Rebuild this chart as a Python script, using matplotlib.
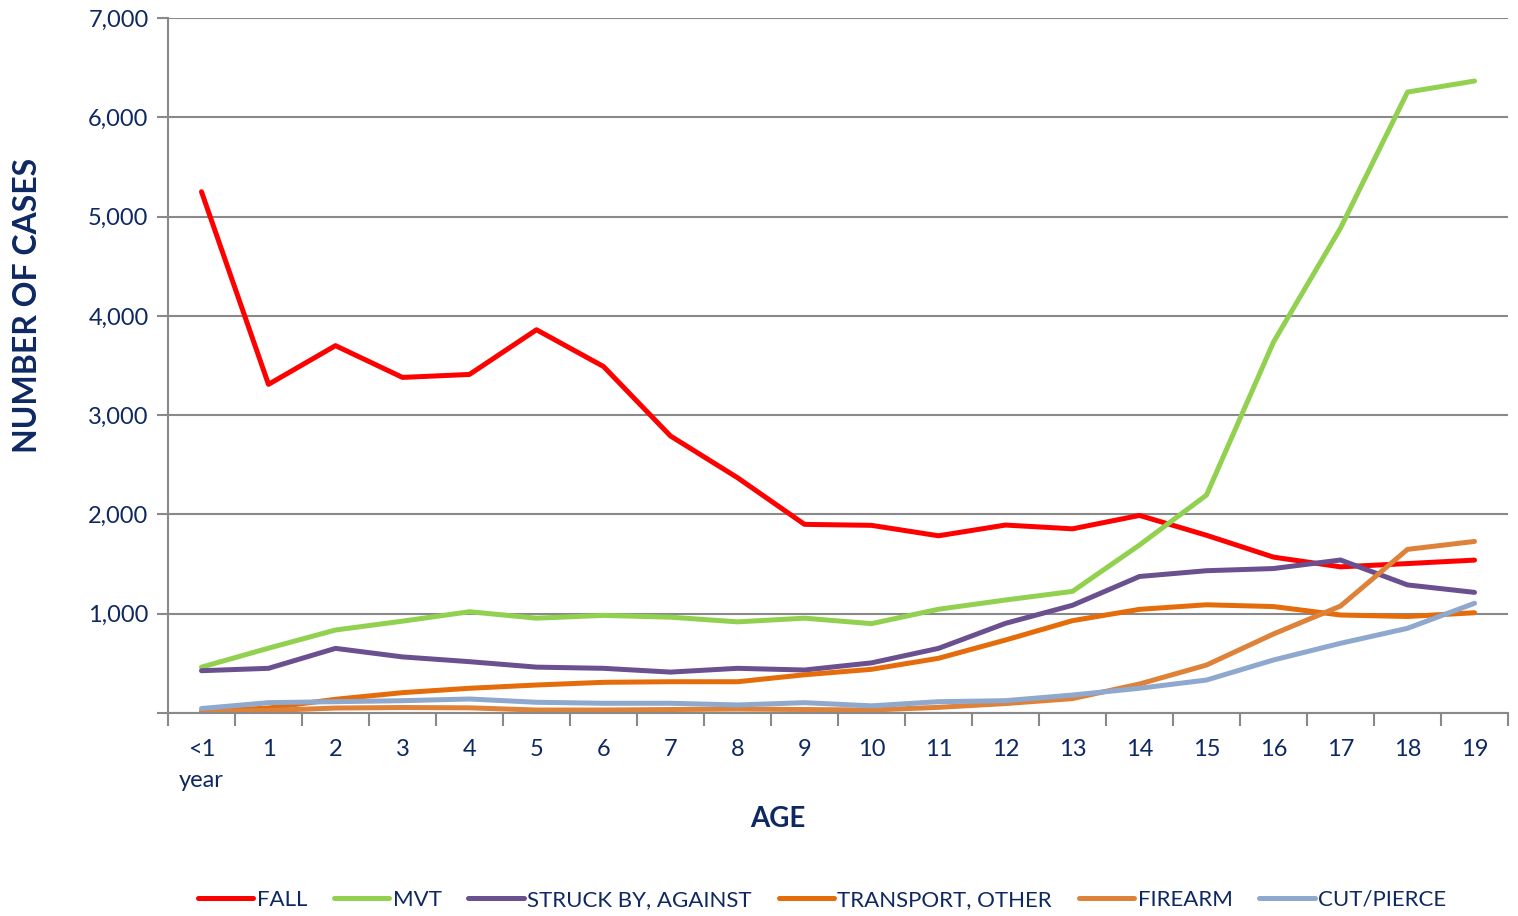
import matplotlib.pyplot as plt
from matplotlib.ticker import FuncFormatter, FixedLocator

ages = ['<1\nyear', '1', '2', '3', '4', '5', '6', '7', '8', '9', '10',
        '11', '12', '13', '14', '15', '16', '17', '18', '19']

fall = [5250, 3310, 3700, 3380, 3410, 3860, 3490, 2790, 2370, 1900, 1890,
        1785, 1893, 1855, 1990, 1790, 1570, 1472, 1505, 1540]
mvt = [462, 653, 836, 925, 1020, 955, 983, 965, 918, 955, 900,
       1045, 1138, 1225, 1692, 2195, 3736, 4884, 6254, 6365]
struck = [426, 450, 651, 565, 517, 462, 450, 412, 450, 433, 505,
          651, 903, 1085, 1375, 1433, 1455, 1541, 1290, 1215]
transport = [15, 50, 138, 205, 249, 282, 309, 315, 315, 385, 440,
             551, 735, 930, 1044, 1090, 1072, 987, 972, 1010]
firearm = [15, 25, 50, 55, 52, 30, 30, 35, 40, 35, 30,
           57, 95, 145, 292, 483, 796, 1077, 1648, 1728]
cut = [45, 104, 114, 124, 141, 108, 98, 98, 81, 104, 72,
       114, 124, 181, 249, 332, 534, 702, 853, 1105]

series = [('FALL', fall, '#FF0000'),
          ('MVT', mvt, '#92D050'),
          ('STRUCK BY, AGAINST', struck, '#6B5090'),
          ('TRANSPORT, OTHER', transport, '#E46C0A'),
          ('FIREARM', firearm, '#DE823A'),
          ('CUT/PIERCE', cut, '#8EA8CE')]

navy = '#0E2862'
grid_c = '#898989'
plt.rcParams['font.family'] = ['Lato', 'DejaVu Sans']

fig = plt.figure(figsize=(15.18, 9.16), dpi=100)
ax = fig.add_axes([168/1518, 1-713/916, (1508-168)/1518, (713-18)/916])

x = list(range(len(ages)))
for name, vals, col in series:
    ax.plot(x, vals, color=col, lw=3.6, label=name, solid_capstyle='round')

ax.set_xlim(-0.5, len(ages)-0.5)
ax.set_ylim(0, 7000)
ax.yaxis.set_major_locator(FixedLocator([0, 1000, 2000, 3000, 4000, 5000, 6000, 7000]))
ax.yaxis.set_major_formatter(FuncFormatter(lambda v, p: '' if v == 0 else f'{int(v):,}'))
ax.grid(axis='y', color=grid_c, lw=1.5)
ax.set_axisbelow(True)

ax.set_xticks(x)
ax.set_xticklabels(ages, va='top', linespacing=1.55)
ax.set_xticks([i - 0.5 for i in range(len(ages)+1)], minor=True)
ax.tick_params(axis='x', which='major', length=0, pad=19, labelsize=17, labelcolor=navy)
ax.tick_params(axis='x', which='minor', length=9, width=1.5, color=grid_c)
ax.tick_params(axis='y', length=8, width=1.5, color=grid_c, labelsize=17,
               labelcolor=navy, pad=6)

for s in ['top', 'right']:
    ax.spines[s].set_visible(False)
for s in ['left', 'bottom']:
    ax.spines[s].set_color(grid_c)
    ax.spines[s].set_linewidth(1.5)

fig.text(778/1518, 1-819/916, 'AGE', ha='center', va='center',
         fontsize=20, fontweight='bold', color=navy)
fig.text(28/1518, 1-305/916, 'NUMBER OF CASES', ha='center', va='center',
         rotation=90, fontsize=23, fontweight='bold', color=navy)

fig.legend(loc='center', bbox_to_anchor=(822/1518, 1-900/916), ncol=6,
           frameon=False, fontsize=16, handlelength=2.5, handletextpad=0.15,
           columnspacing=1.2, labelcolor=navy)

fig.savefig('out.png', dpi=100)
